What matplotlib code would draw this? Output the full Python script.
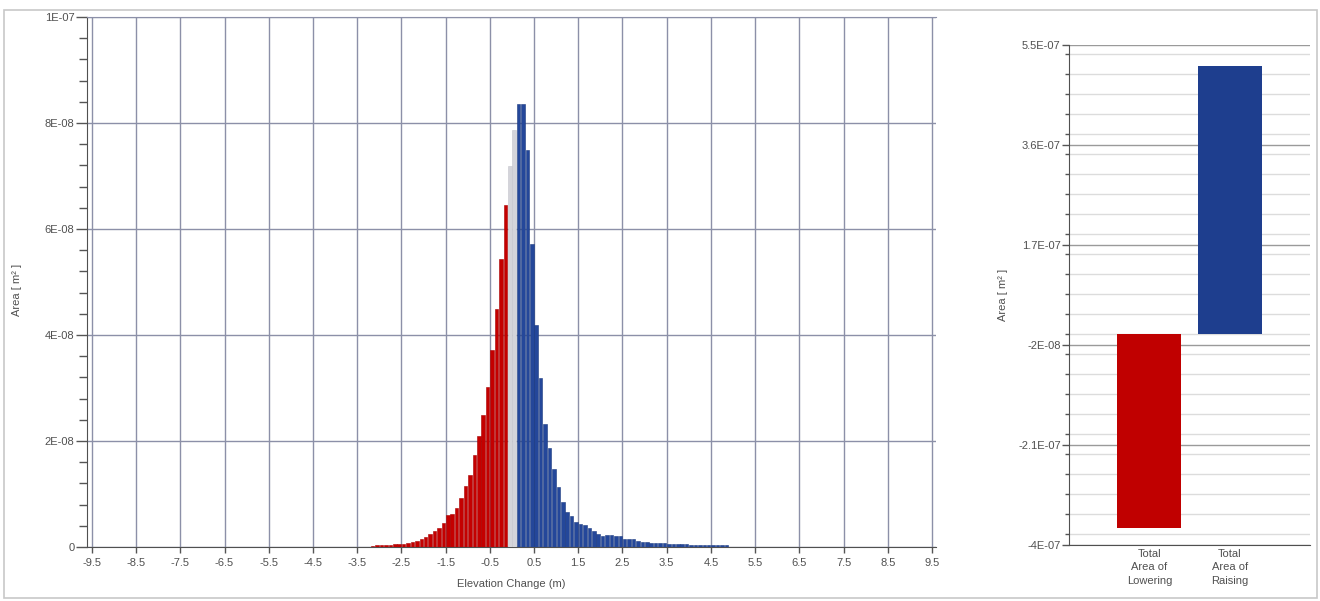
import matplotlib
matplotlib.use("Agg")
import matplotlib.pyplot as plt
from matplotlib import font_manager
from matplotlib.ticker import FixedLocator, MultipleLocator
from matplotlib.patches import Rectangle

# ---------------- data ----------------
# Histogram bins (centre of 0.1 m bins), area in units of 1E-08 m^2
lowering_bins = [-3.15, -3.05, -2.95, -2.85, -2.75, -2.65, -2.55, -2.45, -2.35, -2.25,
                 -2.15, -2.05, -1.95, -1.85, -1.75, -1.65, -1.55, -1.45, -1.35, -1.25,
                 -1.15, -1.05, -0.95, -0.85, -0.75, -0.65, -0.55, -0.45, -0.35, -0.25,
                 -0.15]
lowering_area = [0.025, 0.03, 0.03, 0.035, 0.04, 0.05, 0.05, 0.06, 0.08, 0.10,
                 0.11, 0.145, 0.19, 0.24, 0.30, 0.36, 0.46, 0.60, 0.62, 0.74,
                 0.93, 1.15, 1.35, 1.73, 2.09, 2.49, 3.02, 3.72, 4.50, 5.43,
                 6.46]
excluded_bins = [-0.05, 0.05]
excluded_area = [7.18, 7.86]
raising_bins = [0.15, 0.25, 0.35, 0.45, 0.55, 0.65, 0.75, 0.85, 0.95, 1.05,
                1.15, 1.25, 1.35, 1.45, 1.55, 1.65, 1.75, 1.85, 1.95, 2.05,
                2.15, 2.25, 2.35, 2.45, 2.55, 2.65, 2.75, 2.85, 2.95, 3.05,
                3.15, 3.25, 3.35, 3.45, 3.55, 3.65, 3.75, 3.85, 3.95, 4.05,
                4.15, 4.25, 4.35, 4.45, 4.55, 4.65, 4.75, 4.85]
raising_area = [8.36, 8.36, 7.50, 5.71, 4.18, 3.19, 2.33, 1.87, 1.48, 1.13,
                0.84, 0.66, 0.58, 0.48, 0.44, 0.42, 0.36, 0.31, 0.25, 0.20,
                0.23, 0.22, 0.20, 0.20, 0.16, 0.16, 0.16, 0.11, 0.10, 0.09,
                0.08, 0.07, 0.07, 0.07, 0.06, 0.06, 0.06, 0.05, 0.05, 0.04,
                0.04, 0.04, 0.04, 0.04, 0.03, 0.03, 0.03, 0.03]
area_scale = 1e-8

x_ticks = [-9.5, -8.5, -7.5, -6.5, -5.5, -4.5, -3.5, -2.5, -1.5, -0.5,
           0.5, 1.5, 2.5, 3.5, 4.5, 5.5, 6.5, 7.5, 8.5, 9.5]
x_tick_labels = ["-9.5", "-8.5", "-7.5", "-6.5", "-5.5", "-4.5", "-3.5", "-2.5", "-1.5", "-0.5",
                 "0.5", "1.5", "2.5", "3.5", "4.5", "5.5", "6.5", "7.5", "8.5", "9.5"]
y_ticks = [0, 2e-8, 4e-8, 6e-8, 8e-8, 1e-7]
y_tick_labels = ["0", "2E-08", "4E-08", "6E-08", "8E-08", "1E-07"]

# Totals panel
total_categories = ["Total\nArea of\nLowering", "Total\nArea of\nRaising"]
total_values = [-3.68e-7, 5.10e-7]
total_colors = ["#C00000", "#1E3E8E"]
total_y_ticks = [-4e-7, -2.1e-7, -2e-8, 1.7e-7, 3.6e-7, 5.5e-7]
total_y_tick_labels = ["-4E-07", "-2.1E-07", "-2E-08", "1.7E-07", "3.6E-07", "5.5E-07"]

# ---------------- style ----------------
names = {f.name for f in font_manager.fontManager.ttflist}
font = "Liberation Sans Narrow" if "Liberation Sans Narrow" in names else "Liberation Sans"
plt.rcParams["font.family"] = [font, "DejaVu Sans"]

RED = "#C40000"
BLUE = "#24479A"
GRAY = "#D4D4DA"
TXT = "#505050"
GRID = "#8C90A8"
FS = 8

W, H = 1320, 601
fig = plt.figure(figsize=(W / 100, H / 100), dpi=100)
fig.patches.append(Rectangle((4 / W, 3 / H), 1313 / W, 588 / H, transform=fig.transFigure,
                             fill=False, edgecolor="#C8C8C8", lw=1.2))

# ---------------- histogram ----------------
ax = fig.add_axes([87 / W, (H - 547) / H, (936 - 87) / W, 530 / H])
bw = 0.08
ax.bar(lowering_bins, [v * area_scale for v in lowering_area], width=bw, color=RED,
       edgecolor="#A80000", linewidth=0.4, zorder=3)
ax.bar(excluded_bins, [v * area_scale for v in excluded_area], width=bw, color=GRAY,
       edgecolor="#C4C4CC", linewidth=0.4, zorder=3)
ax.bar(raising_bins, [v * area_scale for v in raising_area], width=bw, color=BLUE,
       edgecolor="#1B3A80", linewidth=0.4, zorder=3)

ax.set_xlim(-9.61, 9.59)
ax.set_ylim(0, 1e-7)
ax.xaxis.set_major_locator(FixedLocator(x_ticks))
ax.set_xticklabels(x_tick_labels)
ax.yaxis.set_major_locator(FixedLocator(y_ticks))
ax.set_yticklabels(y_tick_labels)
ax.yaxis.set_minor_locator(MultipleLocator(0.4e-8))
ax.grid(True, which="major", color=GRID, lw=1.0, zorder=0)
ax.set_axisbelow(True)
ax.tick_params(axis="y", which="major", length=8, width=1, color="#555555",
               labelsize=FS, labelcolor=TXT, pad=1)
ax.tick_params(axis="y", which="minor", length=6, width=1, color="#555555")
ax.tick_params(axis="x", which="major", length=4, width=1, color="#555555",
               labelsize=FS, labelcolor=TXT, pad=4)
for s in ("left", "bottom"):
    ax.spines[s].set_color("#505050")
ax.spines["top"].set_color(GRID)
ax.spines["right"].set_visible(False)
ax.set_xlabel("Elevation Change (m)", fontsize=FS, color=TXT, labelpad=8)
ax.set_ylabel("Area [ m² ]", fontsize=FS, color=TXT)
ax.yaxis.set_label_coords(-0.077, 0.485)

# ---------------- totals ----------------
ax2 = fig.add_axes([1069 / W, (H - 545) / H, (1310 - 1069) / W, 500 / H])
ax2.bar(range(len(total_categories)), total_values, width=0.8,
        color=total_colors, zorder=3)
ax2.set_xlim(-1.0, 2.0)
ax2.set_ylim(-4e-7, 5.5e-7)
ax2.set_xticks(range(len(total_categories)))
ax2.set_xticklabels(total_categories, linespacing=1.4)
ax2.yaxis.set_major_locator(FixedLocator(total_y_ticks))
ax2.set_yticklabels(total_y_tick_labels)
ax2.yaxis.set_minor_locator(MultipleLocator(0.38e-7))
ax2.grid(True, axis="y", which="major", color="#9A9A9A", lw=1.0, zorder=0)
ax2.grid(True, axis="y", which="minor", color="#DCDCDC", lw=1.0, zorder=0)
ax2.set_axisbelow(True)
ax2.tick_params(axis="y", which="major", length=5, width=1, color="#555555",
                labelsize=FS, labelcolor=TXT, pad=1)
ax2.tick_params(axis="y", which="minor", length=3, width=1, color="#555555")
ax2.tick_params(axis="x", which="major", length=0, labelsize=FS, labelcolor=TXT, pad=3)
for s in ("left", "bottom"):
    ax2.spines[s].set_color("#505050")
ax2.spines["top"].set_visible(False)
ax2.spines["right"].set_visible(False)
ax2.set_ylabel("Area [ m² ]", fontsize=FS, color=TXT)
ax2.yaxis.set_label_coords(-0.255, 0.5)

fig.savefig("out.png", dpi=100)
